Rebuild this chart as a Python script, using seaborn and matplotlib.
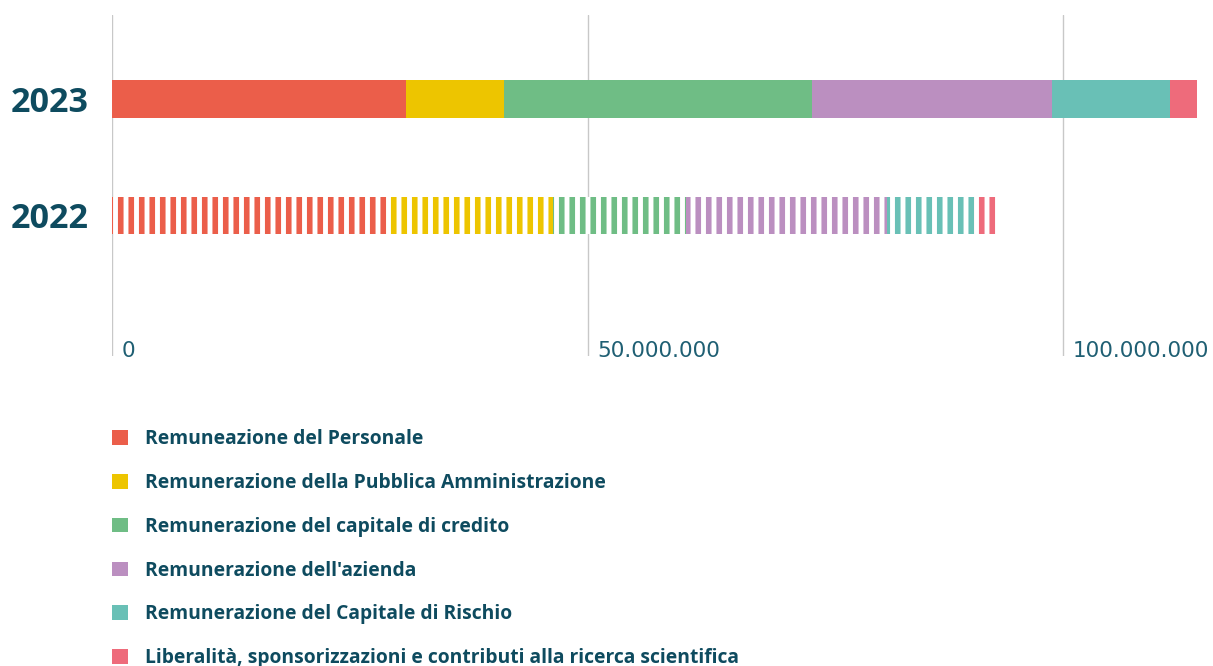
import numpy as np
import pandas as pd
import matplotlib
matplotlib.use("Agg")
import matplotlib.pyplot as plt
from matplotlib.patches import Patch
from matplotlib.transforms import offset_copy
import seaborn as sns

# Valore aggiunto distribuito (euro)
anni = ["2023", "2022"]
categorie = [
    "Remuneazione del Personale",
    "Remunerazione della Pubblica Amministrazione",
    "Remunerazione del capitale di credito",
    "Remunerazione dell'azienda",
    "Remunerazione del Capitale di Rischio",
    "Liberalità, sponsorizzazioni e contributi alla ricerca scientifica",
]
valori_2023 = [30_900_000, 10_300_000, 32_400_000, 25_200_000, 12_400_000, 2_850_000]
valori_2022 = [28_800_000, 17_600_000, 14_000_000, 21_100_000, 9_150_000, 2_600_000]
colori = ["#EB5E4A", "#EDC500", "#6FBD85", "#BB8FC0", "#69C0B6", "#EE6B7B"]
tick_valori = [0, 50_000_000, 100_000_000]

TESTO = "#0E4B5F"
TICK = "#1F5F73"
GRIGLIA = "#C8C8C8"

DPI = 126
W, H = 1213, 666

sns.set_theme(style="white")
plt.rcParams["font.family"] = ["Open Sans", "DejaVu Sans"]
plt.rcParams["hatch.linewidth"] = 3.2

fig = plt.figure(figsize=(W / DPI, H / DPI), dpi=DPI)
ax_left, ax_right = 112 / W, 1200 / W
ax_top, ax_bottom = 15 / H, 356 / H
ax = fig.add_axes([ax_left, 1 - ax_bottom, ax_right - ax_left, ax_bottom - ax_top])

# cumulative totals so that each segment can be layered from the longest down
cum_2023 = np.cumsum(valori_2023)
cum_2022 = np.cumsum(valori_2022)

for i in reversed(range(len(categorie))):
    df = pd.DataFrame({"anno": anni, "valore": [cum_2023[i], cum_2022[i]]})
    n_before = len(ax.patches)
    sns.barplot(data=df, x="valore", y="anno", order=anni, orient="h",
                color=colori[i], saturation=1, width=0.326, linewidth=0, ax=ax)
    nuovi = ax.patches[n_before:]
    # 2022 drawn as vertical stripes
    bar22 = nuovi[1]
    bar22.set_facecolor("white")
    bar22.set_edgecolor(colori[i])
    bar22.set_hatch("||")
    bar22.set_linewidth(0)
    nuovi[0].set_edgecolor("none")

xmax = (1200 - 112) / 9.51 * 1e6
ax.set_xlim(0, xmax)
ax.set_ylim(2.206, -0.721)

for s in ax.spines.values():
    s.set_visible(False)

ax.set_xticks(tick_valori)
ax.tick_params(axis="x", length=0, labelbottom=False)
ax.grid(axis="x", color=GRIGLIA, linewidth=0.8)
ax.grid(axis="y", visible=False)
ax.set_axisbelow(True)

ax.set_xlabel("")
ax.set_ylabel("")
ax.tick_params(axis="y", length=0, pad=13.5)
for lab in ax.get_yticklabels():
    lab.set_family(["Open Sans", "DejaVu Sans"])
    lab.set_fontsize(19.5)
    lab.set_fontweight("bold")
    lab.set_color(TESTO)

# tick labels sit just right of each gridline, at the bottom of the plot
trans = offset_copy(ax.get_xaxis_transform(), fig=fig, x=10, y=-1, units="dots")
for v in tick_valori:
    testo = f"{v:,}".replace(",", ".")
    ax.text(v, 0, testo, transform=trans, ha="left", va="baseline",
            fontsize=12.3, color=TICK, family=["DejaVu Sans"])

handles = [Patch(facecolor=c, edgecolor="none") for c in colori]
fig.legend(handles, categorie, loc="upper left",
           bbox_to_anchor=(112 / W, 1 - 429 / H), frameon=False,
           ncol=1, handlelength=0.85, handleheight=0.8,
           handletextpad=0.85, labelspacing=1.24, borderpad=0,
           borderaxespad=0,
           prop={"family": ["Open Sans", "DejaVu Sans"], "weight": "bold", "size": 11},
           labelcolor=TESTO)

fig.savefig("out.png", dpi=DPI)
